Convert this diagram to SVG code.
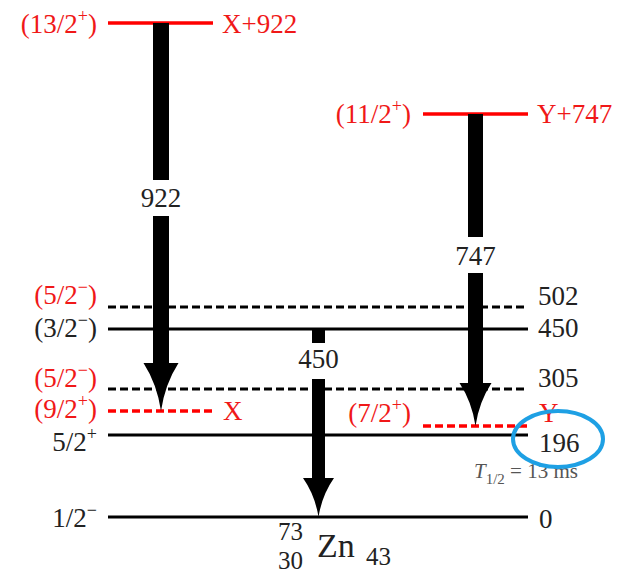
<svg xmlns="http://www.w3.org/2000/svg" width="617" height="574" viewBox="0 0 617 574" font-family="'Liberation Serif', 'DejaVu Serif', serif">
<style>
text{font-family:'Liberation Serif','DejaVu Serif',serif;font-size:27px;fill:#222}
.r{fill:#f01818}
.s{font-size:18px}
.lv{stroke:#000;stroke-width:3;fill:none}
.lr{stroke:#f00;stroke-width:3.5;fill:none}
.d{stroke-dasharray:8 4}
.ar{fill:#000}
.e{text-anchor:end}
.m{text-anchor:middle}
.n{font-size:25px}
</style>
<rect width="617" height="574" fill="#fff"/>
<g id="lvl-X922">
<line class="lr" x1="108" y1="23" x2="213" y2="23"/>
<text class="r e" x="97" y="33">(13/2<tspan class="s" dy="-11">+</tspan><tspan dy="11">)</tspan></text>
<text class="r" x="222" y="33">X+922</text>
</g>
<g id="lvl-Y747">
<line class="lr" x1="423" y1="114" x2="528" y2="114"/>
<text class="r e" x="411" y="123">(11/2<tspan class="s" dy="-11">+</tspan><tspan dy="11">)</tspan></text>
<text class="r" x="537" y="123">Y+747</text>
</g>
<g id="lvl-502">
<line class="lv d" x1="108" y1="307" x2="528" y2="307"/>
<text class="r e" x="97" y="304">(5/2<tspan class="s" dy="-11">−</tspan><tspan dy="11">)</tspan></text>
<text x="538" y="305">502</text>
</g>
<g id="lvl-450">
<line class="lv" x1="108" y1="329" x2="528" y2="329"/>
<text class="e" x="97" y="337">(3/2<tspan class="s" dy="-11">−</tspan><tspan dy="11">)</tspan></text>
<text x="538" y="337">450</text>
</g>
<g id="lvl-305">
<line class="lv d" x1="108" y1="389" x2="528" y2="389"/>
<text class="r e" x="97" y="387">(5/2<tspan class="s" dy="-11">−</tspan><tspan dy="11">)</tspan></text>
<text x="538" y="387">305</text>
</g>
<g id="lvl-X">
<line class="lr d" x1="108" y1="411" x2="213" y2="411"/>
<text class="r e" x="97" y="418">(9/2<tspan class="s" dy="-11">+</tspan><tspan dy="11">)</tspan></text>
<text class="r" x="223" y="420">X</text>
</g>
<g id="lvl-Y">
<line class="lr d" x1="423" y1="426" x2="528" y2="426"/>
<text class="r e" x="411" y="422">(7/2<tspan class="s" dy="-11">+</tspan><tspan dy="11">)</tspan></text>
<text class="r" x="539" y="422">Y</text>
</g>
<g id="lvl-196">
<line class="lv" x1="108" y1="435" x2="528" y2="435"/>
<text class="e" x="97" y="451">5/2<tspan class="s" dy="-11">+</tspan></text>
<text x="539" y="452">196</text>
<text x="474" y="478" style="font-size:21px;fill:#555"><tspan font-style="italic">T</tspan><tspan font-size="15" dy="6">1/2</tspan><tspan dy="-6"> = 13 ms</tspan></text>
</g>
<g id="lvl-0">
<line class="lv" x1="108" y1="517" x2="528" y2="517"/>
<text class="e" x="97" y="527">1/2<tspan class="s" dy="-11">−</tspan></text>
<text x="539" y="528">0</text>
</g>
<g id="connectors">
<g id="g922">
<rect class="ar" x="153" y="23" width="16" height="157"/>
<rect class="ar" x="153" y="216" width="16" height="148"/>
<path class="ar" d="M143.5,363 L178.5,363 Q165,384 161,411 Q157,384 143.5,363 Z"/>
<text class="m" x="161" y="207">922</text>
</g>
<g id="g747">
<rect class="ar" x="468" y="114" width="15" height="123"/>
<rect class="ar" x="468" y="273" width="15" height="111"/>
<path class="ar" d="M459.5,383 L491.5,383 Q479,402 475.5,426 Q472,402 459.5,383 Z"/>
<text class="m" x="475.5" y="265">747</text>
</g>
<g id="g450">
<rect class="ar" x="312" y="329" width="13" height="14"/>
<rect class="ar" x="312" y="379" width="13" height="100"/>
<path class="ar" d="M303,478 L334,478 Q322,495 318.5,517 Q315,495 303,478 Z"/>
<text class="m" x="318.5" y="368">450</text>
</g>
</g>
<g id="nuclide">
<text class="n" x="278" y="540">73</text>
<text class="n" x="278" y="569">30</text>
<text x="317" y="557" style="font-size:34px">Zn</text>
<text class="n" x="366" y="565">43</text>
</g>
<ellipse cx="558" cy="439" rx="45" ry="28" fill="none" stroke="#1ea0e4" stroke-width="4"/>
</svg>
